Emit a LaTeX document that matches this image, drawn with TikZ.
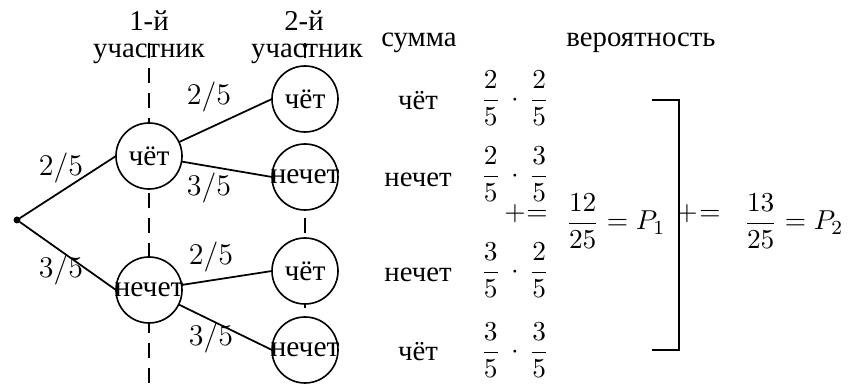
\documentclass[tikz,border=0pt]{standalone}
\usepackage{fontspec}
\setmainfont{Liberation Serif}
\usepackage{amsmath}
\begin{document}
\begin{tikzpicture}[x=0.4pt,y=-0.4pt,
  every node/.style={inner sep=0pt,outer sep=0pt},
  state/.style={circle,draw,line width=0.65pt,fill=white,minimum size=26.4pt,font=\fontsize{11.8}{13}\selectfont},
  guide/.style={dash pattern=on 6pt off 4pt,line width=0.5pt},
  link/.style={line width=0.7pt},
  txt/.style={font=\fontsize{11.5}{13}\selectfont},
  lab/.style={font=\fontsize{11.5}{13}\selectfont},
  frac/.style={font=\fontsize{11}{13}\selectfont,anchor=base},
]
\useasboundingbox (0,0) rectangle (848,392);
% guide lines
\coordinate (g1t) at (149,43);
\coordinate (g1b) at (149,392);
\coordinate (g2t) at (305,43);
\coordinate (g2b) at (305,392);
\draw[guide] (g1t) -- (g1b);
\draw[guide] (g2t) -- (g2b);
% headers
\node[txt,anchor=base] (h1a) at (149,31) {1-й};
\node[txt,anchor=base] (h1b) at (149,58) {участник};
\node[txt,anchor=base] (h2a) at (304,31) {2-й};
\node[txt,anchor=base] (h2b) at (307,58) {участник};
\node[txt,anchor=base] (hs) at (419,47) {сумма};
\node[txt,anchor=base] (hp) at (641,47) {вероятность};
% tree
\node[circle,fill,minimum size=2.8pt] (root) at (17,220) {};
\node[state] (a1) at (149,156) {\makebox[0pt]{чёт}};
\node[state] (a2) at (149,290) {\makebox[0pt]{нечет}};
\node[state] (b1) at (305,99) {\makebox[0pt]{чёт}};
\node[state] (b2) at (305,177) {\makebox[0pt]{нечет}};
\node[state] (b3) at (305,271) {\makebox[0pt]{чёт}};
\node[state] (b4) at (305,350) {\makebox[0pt]{нечет}};
\draw[link] (root) -- (a1.west);
\draw[link] (root) -- (a2.west);
\draw[link] (a1) -- (b1.west);
\draw[link] (a1) -- (b2.west);
\draw[link] (a2) -- (b3.west);
\draw[link] (a2) -- (b4.west);
\node[lab] (p1) at (61,168) {$2/5$};
\node[lab] (p2) at (61,270) {$3/5$};
\node[lab] (p3) at (209,97) {$2/5$};
\node[lab] (p4) at (209,188) {$3/5$};
\node[lab] (p5) at (211,257) {$2/5$};
\node[lab] (p6) at (211,338) {$3/5$};
% sums
\node[txt,anchor=base] (s1) at (418,110) {чёт};
\node[txt,anchor=base] (s2) at (418,187) {нечет};
\node[txt,anchor=base] (s3) at (418,282) {нечет};
\node[txt,anchor=base] (s4) at (418,361) {чёт};
% products
\node[frac] (f1) at (515,107) {$\dfrac{2}{5}\,\cdot\,\dfrac{2}{5}$};
\node[frac] (f2) at (515,183) {$\dfrac{2}{5}\,\cdot\,\dfrac{3}{5}$};
\node[frac] (f3) at (515,279) {$\dfrac{3}{5}\,\cdot\,\dfrac{2}{5}$};
\node[frac] (f4) at (515,359) {$\dfrac{3}{5}\,\cdot\,\dfrac{3}{5}$};
\node[frac] (pl1) at (515,221) {$+$};
\node[frac] (eq1) at (537,221) {$=$};
\node[frac,anchor=base west] (r1) at (566,230) {$\dfrac{12}{25}=P_1$};
% bracket
\coordinate (kt) at (652,100);
\coordinate (kb) at (652,350);
\draw[link] (kt) -- (679,100) -- (679,350) -- (kb);
\node[frac] (pl2) at (687,221) {$+$};
\node[frac] (eq2) at (710,221) {$=$};
\node[frac,anchor=base west] (r2) at (744,230) {$\dfrac{13}{25}=P_2$};
\end{tikzpicture}
\end{document}
